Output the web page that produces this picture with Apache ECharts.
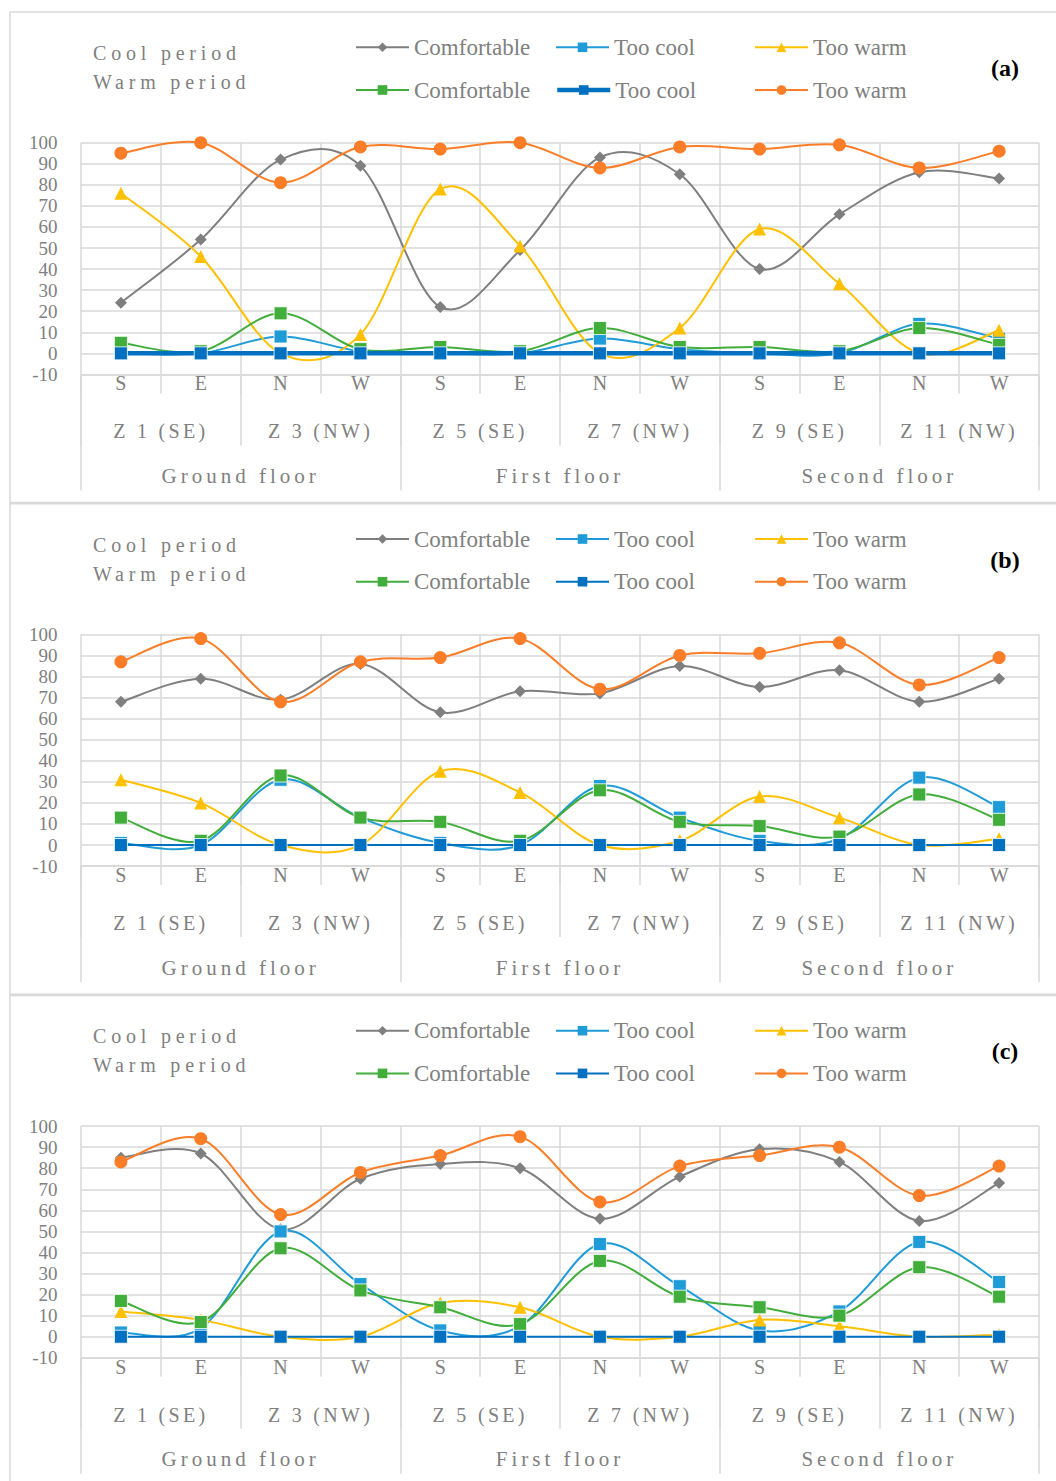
<!DOCTYPE html>
<html>
<head>
<meta charset="utf-8">
<script src="https://cdn.jsdelivr.net/npm/echarts@6/dist/echarts.min.js"></script>
<style>
  html, body { margin: 0; padding: 0; background: #ffffff; }
  #chart { width: 1056px; height: 1481px; }
</style>
</head>
<body>
<div id="chart"></div>
<script>
// Category levels of the horizontal axis
const directions = ['S', 'E', 'N', 'W', 'S', 'E', 'N', 'W', 'S', 'E', 'N', 'W'];
const zones = ['Z 1 (SE)', 'Z 3 (NW)', 'Z 5 (SE)', 'Z 7 (NW)', 'Z 9 (SE)', 'Z 11 (NW)'];
const floors = ['Ground floor', 'First floor', 'Second floor'];

// Value axis (percent of votes)
const yMin = -10;
const yMax = 100;
const yStep = 10;

// Panel (a)
const coolComfortableA = [24, 54, 92, 89, 22, 49, 93, 85, 40, 66, 86, 83];
const coolTooCoolA     = [0, 0, 8, 1, 0, 0, 7, 2, 0, 0, 14, 7];
const coolTooWarmA     = [76, 46, 0, 9, 78, 51, 0, 12, 59, 33, 0, 11];
const warmComfortableA = [5, 1, 19, 2, 3, 1, 12, 3, 3, 1, 12, 4];
const warmTooCoolA     = [0, 0, 0, 0, 0, 0, 0, 0, 0, 0, 0, 0];
const warmTooWarmA     = [95, 100, 81, 98, 97, 100, 88, 98, 97, 99, 88, 96];

// Panel (b)
const coolComfortableB = [68, 79, 69, 86, 63, 73, 72, 85, 75, 83, 68, 79];
const coolTooCoolB     = [1, 0, 31, 13, 1, 0, 28, 13, 2, 3, 32, 18];
const coolTooWarmB     = [31, 20, 0, 0, 35, 25, 0, 2, 23, 13, 0, 3];
const warmComfortableB = [13, 2, 33, 13, 11, 2, 26, 11, 9, 4, 24, 12];
const warmTooCoolB     = [0, 0, 0, 0, 0, 0, 0, 0, 0, 0, 0, 0];
const warmTooWarmB     = [87, 98, 68, 87, 89, 98, 74, 90, 91, 96, 76, 89];

// Panel (c)
const coolComfortableC = [85, 87, 51, 75, 82, 80, 56, 76, 89, 83, 55, 73];
const coolTooCoolC     = [2, 4, 50, 25, 3, 5, 44, 24, 3, 12, 45, 26];
const coolTooWarmC     = [12, 8, 0, 0, 16, 14, 0, 0, 8, 5, 0, 1];
const warmComfortableC = [17, 7, 42, 22, 14, 6, 36, 19, 14, 10, 33, 19];
const warmTooCoolC     = [0, 0, 0, 0, 0, 0, 0, 0, 0, 0, 0, 0];
const warmTooWarmC     = [83, 94, 58, 78, 86, 95, 64, 81, 86, 90, 67, 81];

const panels = [
  { tag: '(a)', thickCool: true,
    values: [coolComfortableA, coolTooCoolA, coolTooWarmA, warmComfortableA, warmTooCoolA, warmTooWarmA] },
  { tag: '(b)', thickCool: false,
    values: [coolComfortableB, coolTooCoolB, coolTooWarmB, warmComfortableB, warmTooCoolB, warmTooWarmB] },
  { tag: '(c)', thickCool: false,
    values: [coolComfortableC, coolTooCoolC, coolTooWarmC, warmComfortableC, warmTooCoolC, warmTooWarmC] }
];

// Series styling: first legend row = cool period, second row = warm period
const seriesStyles = [
  { label: 'Comfortable', period: 'cool', color: '#7f7f7f', symbol: 'diamond',  size: 12 },
  { label: 'Too cool',    period: 'cool', color: '#1f9bd7', symbol: 'rect',     size: 13 },
  { label: 'Too warm',    period: 'cool', color: '#ffc000', symbol: 'triangle', size: 13 },
  { label: 'Comfortable', period: 'warm', color: '#41ad3b', symbol: 'rect',     size: 13 },
  { label: 'Too cool',    period: 'warm', color: '#0070c0', symbol: 'rect',     size: 13 },
  { label: 'Too warm',    period: 'warm', color: '#fb7d27', symbol: 'circle',   size: 13 }
];

const FONT = "'Liberation Serif', 'Times New Roman', serif";
const GREY_TEXT = '#808080';
const GRID_LINE = '#d9d9d9';

// Layout of one panel, relative to its top edge
const PANEL_STEP = 491.7;
const PANEL_TOP0 = 12;
const GRID_LEFT = 81;
const GRID_WIDTH = 958;
const GRID_OFFSET = 130.7;
const GRID_HEIGHT = 231.7;
const LEGEND_COLS = [355, 555, 754];
const LEGEND_ROWS = [35.3, 78];

// Smoothed segment between item i and i+1 (cardinal spline through the
// neighbouring data points, positioned with the axes' own coordinates)
function curveRenderer(values, color, width) {
  const n = values.length;
  return function (params, api) {
    const i = params.dataIndex;
    if (i >= n - 1) return null;
    const at = k => {
      const j = Math.max(0, Math.min(n - 1, k));
      return api.coord([j, values[j]]);
    };
    const p0 = at(i - 1), p1 = at(i), p2 = at(i + 1), p3 = at(i + 2);
    return {
      type: 'bezierCurve',
      silent: true,
      shape: {
        x1: p1[0], y1: p1[1], x2: p2[0], y2: p2[1],
        cpx1: p1[0] + (p2[0] - p0[0]) / 6, cpy1: p1[1] + (p2[1] - p0[1]) / 6,
        cpx2: p2[0] - (p3[0] - p1[0]) / 6, cpy2: p2[1] - (p3[1] - p1[1]) / 6
      },
      style: { stroke: color, lineWidth: width, fill: 'none', lineCap: 'round' }
    };
  };
}

const grids = [], xAxes = [], yAxes = [], series = [], legends = [], graphics = [];

panels.forEach((panel, p) => {
  const top = PANEL_TOP0 + p * PANEL_STEP;

  grids.push({ left: GRID_LEFT, width: GRID_WIDTH, top: top + GRID_OFFSET, height: GRID_HEIGHT });

  // Directions row (also carries the vertical grid lines)
  xAxes.push({
    type: 'category', gridIndex: p, position: 'bottom', data: directions,
    axisLine: { show: true, onZero: false, lineStyle: { color: GRID_LINE, width: 1.5 } },
    axisTick: { show: true, length: 19, interval: 0, lineStyle: { color: GRID_LINE, width: 1.5 } },
    axisLabel: { interval: 0, margin: -1, fontFamily: FONT, fontSize: 20, color: GREY_TEXT },
    splitLine: { show: true, interval: 0, lineStyle: { color: GRID_LINE, width: 1.5 } }
  });
  // Zone row
  xAxes.push({
    type: 'category', gridIndex: p, position: 'bottom', data: zones,
    axisLine: { show: false, onZero: false },
    axisTick: { show: true, length: 71, interval: 0, lineStyle: { color: GRID_LINE, width: 1.5 } },
    axisLabel: { interval: 0, margin: 47, fontFamily: FONT, fontSize: 20, color: GREY_TEXT },
    splitLine: { show: false }
  });
  // Floor row
  xAxes.push({
    type: 'category', gridIndex: p, position: 'bottom', data: floors,
    axisLine: { show: false, onZero: false },
    axisTick: { show: true, length: 116, interval: 0, lineStyle: { color: GRID_LINE, width: 1.5 } },
    axisLabel: { interval: 0, margin: 91, fontFamily: FONT, fontSize: 21, color: GREY_TEXT },
    splitLine: { show: false }
  });

  yAxes.push({
    type: 'value', gridIndex: p, min: yMin, max: yMax, interval: yStep,
    axisLine: { show: false }, axisTick: { show: false },
    axisLabel: { margin: 23.5, fontFamily: FONT, fontSize: 19, color: GREY_TEXT },
    splitLine: { show: true, lineStyle: { color: GRID_LINE, width: 1.5 } }
  });

  seriesStyles.forEach((s, i) => {
    const name = s.label + '#' + p + '-' + s.period;
    const lineWidth = (panel.thickCool && i === 4) ? 4.5 : 2;
    const values = panel.values[i];

    // smoothed line
    series.push({
      type: 'custom', name: name + '-curve', coordinateSystem: 'cartesian2d',
      xAxisIndex: p * 3, yAxisIndex: p,
      data: values.map((v, k) => [k, v]),
      encode: { x: 0, y: 1 },
      renderItem: curveRenderer(values, s.color, lineWidth),
      silent: true, clip: false,
      z: 2 + 2 * i
    });
    // markers (and legend entry)
    series.push({
      type: 'line', name: name, xAxisIndex: p * 3, yAxisIndex: p,
      data: values,
      symbol: s.symbol, symbolSize: s.size, showAllSymbol: true,
      lineStyle: { color: s.color, width: lineWidth, opacity: 0 },
      itemStyle: { color: s.color, borderColor: s.symbol === 'rect' ? '#ffffff' : s.color,
                   borderWidth: s.symbol === 'rect' ? 0.8 : 0 },
      emphasis: { disabled: true },
      silent: true,
      z: 3 + 2 * i
    });

    const row = Math.floor(i / 3), col = i % 3;
    legends.push({
      data: [name], selectedMode: false,
      left: LEGEND_COLS[col], top: top + LEGEND_ROWS[row] - 11.5,
      padding: 0, itemGap: 0, itemWidth: 53, itemHeight: 12,
      formatter: n => n.split('#')[0],
      lineStyle: { color: s.color, width: lineWidth, opacity: 1 },
      itemStyle: { color: s.color, borderWidth: 0 },
      textStyle: { fontFamily: FONT, fontSize: 23, color: GREY_TEXT, padding: [0, 0, 0, 0] }
    });
  });

  // Panel frame
  graphics.push({
    type: 'rect', silent: true, z: -10,
    shape: { x: 10, y: top, width: 1100, height: 490.5 },
    style: { fill: 'none', stroke: GRID_LINE, lineWidth: 1.5 }
  });
  // Period captions
  graphics.push({
    type: 'text', silent: true, x: 93, y: top + 41,
    style: { text: 'Cool period', font: '20px ' + FONT, fill: GREY_TEXT, verticalAlign: 'middle' }
  });
  graphics.push({
    type: 'text', silent: true, x: 93, y: top + 70,
    style: { text: 'Warm period', font: '20px ' + FONT, fill: GREY_TEXT, verticalAlign: 'middle' }
  });
  // Panel tag
  graphics.push({
    type: 'text', silent: true, x: 1005, y: top + 56,
    style: { text: panel.tag, font: 'bold 24px ' + FONT, fill: '#000000', align: 'center', verticalAlign: 'middle' }
  });
});

const chart = echarts.init(document.getElementById('chart'), null, { renderer: 'svg' });
chart.setOption({
  animation: false,
  backgroundColor: '#ffffff',
  grid: grids,
  xAxis: xAxes,
  yAxis: yAxes,
  legend: legends,
  series: series,
  graphic: graphics
});

// Letter-spaced captions
const tracking = {
  'Cool period': 4.8, 'Warm period': 4.8,
  'Ground floor': 4, 'First floor': 4, 'Second floor': 4
};
zones.forEach(z => { tracking[z] = 3.3; });

function applyTracking() {
  document.querySelectorAll('#chart text').forEach(t => {
    const s = t.textContent;
    if (tracking[s] != null) t.style.letterSpacing = tracking[s] + 'px';
  });
}
chart.on('finished', applyTracking);
applyTracking();
setTimeout(applyTracking, 50);
</script>
</body>
</html>
